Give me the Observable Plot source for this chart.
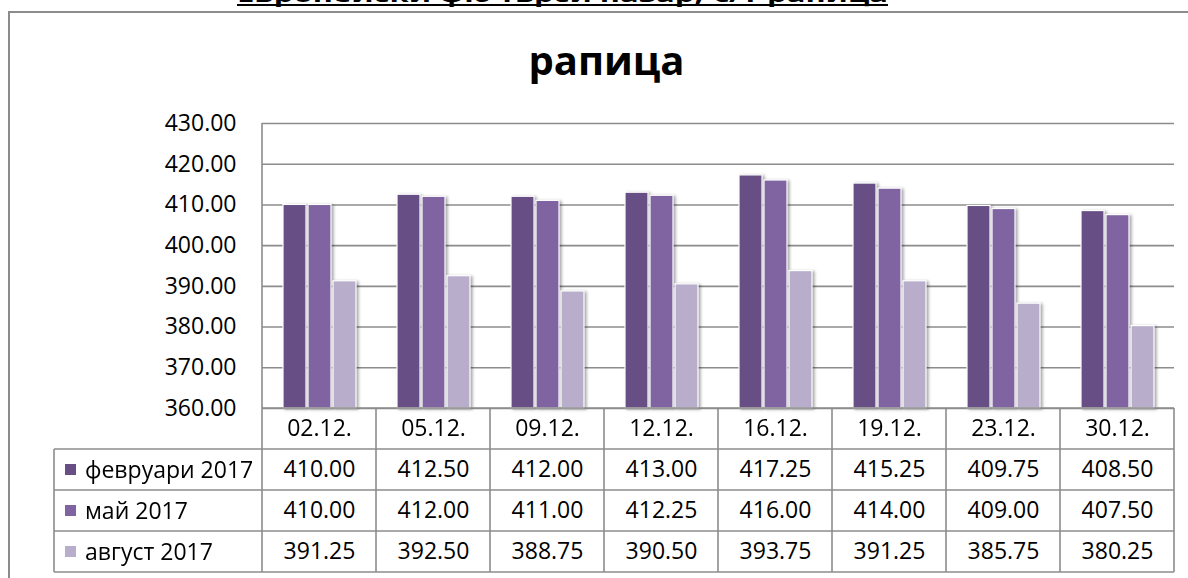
<!DOCTYPE html>
<html>
<head>
<meta charset="utf-8">
<script src="https://cdn.jsdelivr.net/npm/d3@7"></script>
<script src="https://cdn.jsdelivr.net/npm/@observablehq/plot@0.6"></script>
<style>
  html, body { margin: 0; padding: 0; background: #fff; }
  #wrap { position: relative; width: 1188px; height: 578px; overflow: hidden; background: #fff; font-family: "Open Sans", sans-serif; }
  #frame { position: absolute; left: 8px; top: 11px; width: 1200px; height: 600px; border: 2px solid #8c8c8c; box-sizing: border-box; }
  #supertitle { position: absolute; left: 237px; top: -18.5px; font-size: 22px; line-height: 1; font-weight: bold; white-space: nowrap; color: #000; transform-origin: 0 0; }
  #superline { position: absolute; left: 237px; width: 651px; top: 3.5px; height: 2.5px; background: #000; }
  #title { position: absolute; left: 0; width: 1213px; text-align: center; top: 39.5px; font-size: 40px; line-height: 1; font-weight: bold; color: #000; }
  #chart { position: absolute; left: 0; top: 0; }
</style>
</head>
<body>
<div id="wrap">
  <div id="frame"></div>
  <div id="supertitle">Европейски фючърси пазар, €/т рапица</div>
  <div id="superline"></div>
  <div id="chart"></div>
  <div id="title">рапица</div>
</div>
<script>
// ---- data ----
const dates = ["02.12.", "05.12.", "09.12.", "12.12.", "16.12.", "19.12.", "23.12.", "30.12."];
const series = ["февруари 2017", "май 2017", "август 2017"];
const february = [410.00, 412.50, 412.00, 413.00, 417.25, 415.25, 409.75, 408.50];
const may = [410.00, 412.00, 411.00, 412.25, 416.00, 414.00, 409.00, 407.50];
const august = [391.25, 392.50, 388.75, 390.50, 393.75, 391.25, 385.75, 380.25];
const yTicks = [360, 370, 380, 390, 400, 410, 420, 430];
const colors = ["#674F86", "#8064A2", "#B8AECC"];

const values = [february, may, august];
const rows = series.flatMap((s, i) => dates.map((d, j) => ({date: d, series: s, value: values[i][j]})));

// fit super title width
const st = document.getElementById("supertitle");
const stw = st.getBoundingClientRect().width;
st.style.transform = `scaleX(${651 / stw})`;

const rowH = 41;
const fontSize = 23;

const tableTexts = [
  Plot.text(dates, {fx: d => d, text: d => d, frameAnchor: "bottom", lineAnchor: "middle", dy: rowH / 2, fontSize, fill: "#000"}),
  ...series.map((s, i) => Plot.text(rows.filter(r => r.series === s), {
    fx: "date", text: d => d.value.toFixed(2), frameAnchor: "bottom", lineAnchor: "middle",
    dy: rowH / 2 + rowH * (i + 1), fontSize, fill: "#000"
  }))
];

const plot = Plot.plot({
  width: 1188,
  height: 578,
  marginLeft: 262,
  marginRight: 14,
  marginTop: 123,
  marginBottom: 170,
  style: {fontFamily: "Open Sans, sans-serif", fontSize: "23px", color: "#000", background: "transparent", overflow: "visible"},
  fx: {domain: dates, padding: 0, axis: null, label: null},
  x: {domain: series, paddingInner: 0.08, paddingOuter: 0.82, axis: null, label: null},
  y: {domain: [360, 430], axis: null, label: null},
  color: {domain: series, range: colors},
  marks: [
    Plot.gridY(yTicks, {stroke: "#8c8c8c", strokeOpacity: 1, strokeWidth: 1.6}),
    Plot.barY(rows, {fx: "date", x: "series", y1: 360, y2: "value", fill: "series", stroke: "#fff", strokeWidth: 1.2}),
    Plot.axisY({ticks: yTicks, tickFormat: d => d.toFixed(2), tickSize: 0, tickPadding: 26, fontSize, fill: "#000", label: null}),
    ...tableTexts
  ]
});

document.getElementById("chart").appendChild(plot);

// shadow on bars
d3.select(plot).selectAll('g[aria-label="bar"]').style("filter", "drop-shadow(2px 1px 1.5px rgba(0,0,0,0.35))");

// ---- table grid and legend column, positioned from the plot's scales ----
const fx = plot.scale("fx");
const y = plot.scale("y");
const colLeft = Math.min(...fx.range), colRight = Math.max(...fx.range);
const colW = (colRight - colLeft) / dates.length;
const yTop = y.apply(430), yBase = y.apply(360);
const tableLeft = 54;
const nRows = series.length + 1;
const g = d3.select(plot).append("g").attr("stroke", "#8c8c8c").attr("stroke-width", 1.6).attr("fill", "none");

// y axis line
g.append("line").attr("x1", colLeft).attr("x2", colLeft).attr("y1", yTop).attr("y2", yBase);
// horizontal table lines
for (let k = 0; k <= nRows; k++) {
  g.append("line")
    .attr("x1", k === 0 ? colLeft : tableLeft).attr("x2", colRight)
    .attr("y1", yBase + rowH * k).attr("y2", yBase + rowH * k);
}
// vertical table lines
for (let c = 0; c <= dates.length; c++) {
  const xx = colLeft + colW * c;
  g.append("line").attr("x1", xx).attr("x2", xx).attr("y1", yBase).attr("y2", yBase + rowH * nRows);
}
g.append("line").attr("x1", tableLeft).attr("x2", tableLeft).attr("y1", yBase + rowH).attr("y2", yBase + rowH * nRows);

// legend cells
const lg = d3.select(plot).append("g").attr("text-anchor", "start");
series.forEach((s, i) => {
  const cy = yBase + rowH * (i + 1) + rowH / 2;
  lg.append("rect").attr("x", 65).attr("y", cy - 5.5).attr("width", 11).attr("height", 11).attr("fill", colors[i]);
  lg.append("text").attr("x", 85).attr("y", cy).attr("dy", "0.35em")
    .attr("font-size", fontSize).attr("fill", "#000").text(s);
});
</script>
</body>
</html>
